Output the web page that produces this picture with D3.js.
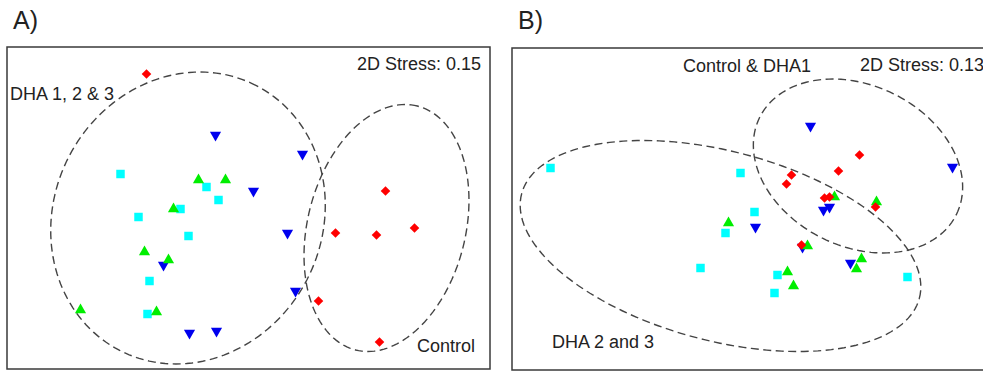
<!DOCTYPE html>
<html>
<head>
<meta charset="utf-8">
<script src="https://cdn.jsdelivr.net/npm/d3@7"></script>
<style>
  html, body { margin: 0; padding: 0; background: #fff; }
  svg { display: block; }
  text { font-family: "Liberation Sans", Arial, sans-serif; fill: #222; }
</style>
</head>
<body>
<svg id="chart" width="983" height="371"></svg>
<script>
// nMDS ordinations (MDS1, MDS2) for the four treatment groups.
const groups = ["Control", "DHA1", "DHA2", "DHA3"];
const groupColors = ["#ff0000", "#0000ee", "#00ee00", "#00ffff"];
const groupShapes = ["diamond", "triangleDown", "triangleUp", "square"];

// Panel A
const aControl = [[-1.02, 1.34], [1.37, 0.17], [0.87, -0.25], [1.28, -0.27], [1.66, -0.20], [0.70, -0.93], [1.31, -1.34]];
const aDHA1 = [[-0.33, 0.73], [0.54, 0.54], [0.05, 0.17], [0.39, -0.25], [-0.85, -0.57], [0.47, -0.83], [-0.59, -1.25], [-0.32, -1.23]];
const aDHA2 = [[-0.50, 0.28], [-0.23, 0.28], [-0.75, -0.01], [-1.04, -0.44], [-0.80, -0.52], [-1.68, -1.02], [-0.92, -1.04]];
const aDHA3 = [[-1.28, 0.34], [-0.42, 0.21], [-0.30, 0.08], [-0.68, -0.01], [-1.10, -0.09], [-0.60, -0.28], [-0.99, -0.73], [-1.01, -1.06]];
const aStress = "2D Stress: 0.15";
// cluster ellipses: centre, semi-axes, tilt (degrees, counter-clockwise)
const aClusters = [
  { label: "DHA 1, 2 & 3", cx: -0.605, cy: -0.10, a: 1.49, b: 1.34, tilt: 62.7 },
  { label: "Control",      cx: 1.38,   cy: -0.20, a: 1.258, b: 0.789, tilt: 75.8 }
];

// Panel B
const bControl = [[1.06, 0.54], [0.85, 0.38], [0.38, 0.34], [0.33, 0.25], [0.71, 0.11], [0.76, 0.12], [1.22, 0.02], [0.48, -0.36]];
const bDHA1 = [[0.57, 0.83], [1.99, 0.42], [0.02, -0.18], [0.70, -0.01], [0.76, 0.02], [0.49, -0.38], [0.97, -0.54]];
const bDHA2 = [[0.81, 0.12], [1.23, 0.07], [-0.25, -0.14], [0.54, -0.37], [1.08, -0.50], [1.03, -0.60], [0.34, -0.63], [0.40, -0.77]];
const bDHA3 = [[-2.03, 0.41], [-0.13, 0.36], [0.01, -0.03], [-0.28, -0.24], [-0.53, -0.59], [0.24, -0.66], [0.21, -0.84], [1.54, -0.68]];
const bStress = "2D Stress: 0.13";
const bClusters = [
  { label: "DHA 2 and 3",    cx: -0.33, cy: -0.37, a: 2.056, b: 0.948, tilt: -14.7 },
  { label: "Control & DHA1", cx: 1.045, cy: 0.43,  a: 1.097, b: 0.805, tilt: -26.2 }
];

const xDomain = [-2.415, 2.415];
const yDomain = [-1.61, 1.61];

const svg = d3.select("#chart");

const symbolPaths = {
  square: d3.symbol().type(d3.symbolSquare).size(72)(),
  diamond: d3.symbol().type(d3.symbolSquare).size(46)(),
  triangleUp: d3.symbol().type(d3.symbolTriangle).size(54)(),
  triangleDown: d3.symbol().type(d3.symbolTriangle).size(54)()
};
const symbolRotate = { square: 0, diamond: 45, triangleUp: 0, triangleDown: 180 };

function ellipsePoints(c) {
  const phi = c.tilt * Math.PI / 180;
  return d3.range(0, 160).map(i => {
    const t = i / 160 * 2 * Math.PI;
    const ex = c.a * Math.cos(t), ey = c.b * Math.sin(t);
    return [c.cx + ex * Math.cos(phi) - ey * Math.sin(phi),
            c.cy + ex * Math.sin(phi) + ey * Math.cos(phi)];
  });
}

function drawPanel(opts) {
  const { letter, box, series, clusters, stress, labelPos } = opts;
  const g = svg.append("g");
  const x = d3.scaleLinear().domain(xDomain).range([box.x0, box.x1]);
  const y = d3.scaleLinear().domain(yDomain).range([box.y1, box.y0]);

  g.append("text")
    .attr("x", box.x0 + 6).attr("y", 29)
    .style("font-size", "25px")
    .text(letter);

  g.append("rect")
    .attr("x", box.x0).attr("y", box.y0)
    .attr("width", box.x1 - box.x0).attr("height", box.y1 - box.y0)
    .attr("fill", "none").attr("stroke", "#3a3a3a").attr("stroke-width", 1.5);

  const line = d3.line().x(d => x(d[0])).y(d => y(d[1])).curve(d3.curveLinearClosed);
  g.selectAll("path.cluster").data(clusters).join("path")
    .attr("class", "cluster")
    .attr("d", c => line(ellipsePoints(c)))
    .attr("fill", "none")
    .attr("stroke", "#444")
    .attr("stroke-width", 1.4)
    .attr("stroke-dasharray", "8,4.5");

  // draw order: DHA3, DHA1, DHA2, Control
  [3, 1, 2, 0].forEach(gi => {
    const shape = groupShapes[gi];
    g.selectAll(null).data(series[gi]).join("path")
      .attr("d", symbolPaths[shape])
      .attr("transform", d => `translate(${x(d[0])},${y(d[1])}) rotate(${symbolRotate[shape]})`)
      .attr("fill", groupColors[gi]);
  });

  g.append("text")
    .attr("x", labelPos.stress[0]).attr("y", labelPos.stress[1])
    .attr("text-anchor", labelPos.stress[2])
    .style("font-size", "18px")
    .text(stress);

  clusters.forEach((c, i) => {
    g.append("text")
      .attr("x", labelPos.clusters[i][0]).attr("y", labelPos.clusters[i][1])
      .style("font-size", "18px")
      .text(c.label);
  });
}

drawPanel({
  letter: "A)",
  box: { x0: 7, x1: 490, y0: 47, y1: 369 },
  series: [aControl, aDHA1, aDHA2, aDHA3],
  clusters: aClusters,
  stress: aStress,
  labelPos: { stress: [481, 69.5, "end"], clusters: [[10, 99.5], [417, 352]] }
});

drawPanel({
  letter: "B)",
  box: { x0: 512, x1: 995, y0: 48, y1: 370 },
  series: [bControl, bDHA1, bDHA2, bDHA3],
  clusters: bClusters,
  stress: bStress,
  labelPos: { stress: [860, 71, "start"], clusters: [[552, 348], [683, 71.5]] }
});
</script>
</body>
</html>
